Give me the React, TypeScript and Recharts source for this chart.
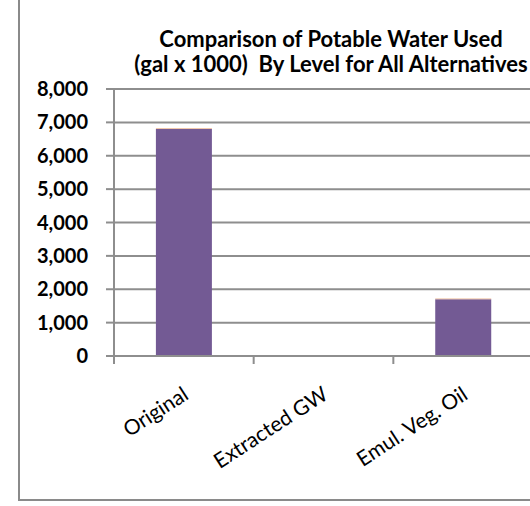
import React from "react";
import { BarChart, Bar, XAxis, YAxis, CartesianGrid } from "recharts";

const categories = ["Original", "Extracted GW", "Emul. Veg. Oil"];
const level1Values = [6800, 0, 1700];
const level2Values = [25, 0, 25];
const yTicks = [0, 1000, 2000, 3000, 4000, 5000, 6000, 7000, 8000];
const titleLines = ["Comparison of Potable Water Used", "(gal x 1000)  By Level for All Alternatives"];

const data = categories.map((name, i) => ({
  name,
  level1: level1Values[i],
  level2: level2Values[i],
}));

const FONT = "Lato, 'Open Sans', sans-serif";
const GRID = "#8e8e8e";

const XTick = (props: any) => {
  const { x, y, payload, index, width } = props;
  const band = (width || 419) / categories.length;
  const ax = x + 6;
  const ay = y + 42;
  return (
    <g>
      <line x1={x - band / 2} y1={y} x2={x - band / 2} y2={y + 8} stroke={GRID} strokeWidth={2} />
      {index === categories.length - 1 && (
        <line x1={x + band / 2} y1={y} x2={x + band / 2} y2={y + 8} stroke={GRID} strokeWidth={2} />
      )}
      <text
        x={ax}
        y={ay}
        transform={`rotate(-33, ${ax}, ${ay})`}
        textAnchor="end"
        fontSize={21}
        fontFamily={FONT}
        fill="#000"
      >
        {payload.value}
      </text>
    </g>
  );
};

export default function App() {
  return (
    <div
      style={{
        position: "absolute",
        left: 0,
        top: 0,
        width: 530,
        height: 506,
        overflow: "hidden",
        background: "#fff",
      }}
    >
      <div
        style={{
          position: "absolute",
          left: 18,
          top: -2,
          width: 700,
          height: 503,
          boxSizing: "border-box",
          border: "2px solid #8a8a8a",
        }}
      />
      <div
        style={{
          position: "absolute",
          left: 31,
          top: 26,
          width: 600,
          textAlign: "center",
          fontFamily: FONT,
          fontWeight: 700,
          fontSize: 22,
          lineHeight: "25px",
          whiteSpace: "pre",
          color: "#000",
        }}
      >
        {titleLines.map((t) => (
          <div key={t}>{t}</div>
        ))}
      </div>
      <div style={{ position: "absolute", left: 0, top: 0 }}>
        <BarChart
          width={540}
          height={506}
          data={data}
          margin={{ top: 89, right: 7, bottom: 0, left: 0 }}
          barCategoryGap="30%"
        >
          <CartesianGrid vertical={false} stroke={GRID} strokeWidth={2} />
          <XAxis
            dataKey="name"
            height={150}
            axisLine={{ stroke: GRID, strokeWidth: 2 }}
            tickLine={false}
            tickSize={0}
            tickMargin={0}
            interval={0}
            tick={<XTick />}
          />
          <YAxis
            width={114}
            domain={[0, 8000]}
            ticks={yTicks}
            interval={0}
            axisLine={{ stroke: GRID, strokeWidth: 2 }}
            tickLine={{ stroke: GRID, strokeWidth: 2 }}
            tickSize={8}
            tickMargin={18}
            tickFormatter={(v: number) => v.toLocaleString("en-US")}
            tick={{ fill: "#000", fontSize: 20, fontWeight: 700, fontFamily: FONT }}
          />
          <Bar dataKey="level1" stackId="a" fill="#735A94" isAnimationActive={false} />
          <Bar dataKey="level2" stackId="a" fill="#EBB58F" isAnimationActive={false} />
        </BarChart>
      </div>
    </div>
  );
}
